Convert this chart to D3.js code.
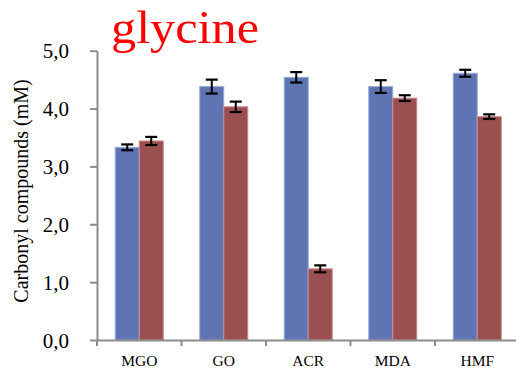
<!DOCTYPE html>
<html>
<head>
<meta charset="utf-8">
<script src="https://cdn.jsdelivr.net/npm/d3@7"></script>
<style>
  html, body { margin: 0; padding: 0; background: #fff; }
  svg { display: block; }
</style>
</head>
<body>
<svg id="chart" width="516" height="369"></svg>
<script>
// Carbonyl compounds measured for each compound, two series per group
const categories = ["MGO", "GO", "ACR", "MDA", "HMF"];
const seriesNames = ["s1", "s2"];
const seriesA = [3.33, 4.38, 4.54, 4.38, 4.61];
const seriesB = [3.44, 4.03, 1.23, 4.18, 3.86];
const errorA = [0.05, 0.12, 0.09, 0.11, 0.06];
const errorB = [0.07, 0.09, 0.06, 0.05, 0.04];
const yTicks = [0, 1, 2, 3, 4, 5];
const titleText = "glycine";
const yLabel = "Carbonyl compounds (mM)";

const serif = "'Liberation Serif', 'DejaVu Serif', serif";
const colors = { s1: "#5F75B3", s2: "#9A5051" };
const edges = { s1: "#9AAAD6", s2: "#C98A8B" };
const axisGrey = "#8c8c8c";

const svg = d3.select("#chart");

const plotLeft = 97, plotRight = 519.5, plotTop = 50.7, plotBottom = 340;

const x = d3.scaleBand().domain(categories).range([plotLeft, plotRight]).padding(0);
const xs = d3.scaleBand().domain(seriesNames).range([0, x.bandwidth()])
  .paddingInner(0).paddingOuter(0.76);
const y = d3.scaleLinear().domain([0, 5]).range([plotBottom, plotTop]);

const rows = categories.map((c, i) => ({
  cat: c,
  vals: [
    { key: "s1", v: seriesA[i], e: errorA[i] },
    { key: "s2", v: seriesB[i], e: errorB[i] }
  ]
}));

// bars
const groups = svg.append("g").selectAll("g").data(rows).join("g")
  .attr("transform", d => `translate(${x(d.cat)},0)`);

groups.selectAll("rect").data(d => d.vals).join("rect")
  .attr("x", d => xs(d.key))
  .attr("y", d => y(d.v))
  .attr("width", xs.bandwidth())
  .attr("height", d => y(0) - y(d.v))
  .attr("fill", d => colors[d.key])
  .attr("stroke", d => edges[d.key])
  .attr("stroke-width", 1);

// error bars
const eb = groups.selectAll("g.err").data(d => d.vals).join("g").attr("class", "err")
  .attr("transform", d => `translate(${xs(d.key) + xs.bandwidth() / 2},0)`);
eb.append("line")
  .attr("x1", 0).attr("x2", 0)
  .attr("y1", d => y(d.v + d.e)).attr("y2", d => y(d.v - d.e))
  .attr("stroke", "#000").attr("stroke-width", 2);
eb.selectAll("line.cap").data(d => [d.v + d.e, d.v - d.e]).join("line")
  .attr("class", "cap")
  .attr("x1", -6).attr("x2", 6)
  .attr("y1", d => y(d)).attr("y2", d => y(d))
  .attr("stroke", "#000").attr("stroke-width", 2.2);

// y axis
const yAxis = svg.append("g").attr("transform", `translate(${plotLeft},0)`)
  .call(d3.axisLeft(y).tickValues(yTicks).tickSize(7).tickSizeOuter(0).tickPadding(21)
    .tickFormat(d => d.toFixed(1).replace(".", ",")));
yAxis.attr("font-family", null).attr("font-size", null);
yAxis.select(".domain").attr("stroke", axisGrey).attr("stroke-width", 2);
yAxis.selectAll(".tick line").attr("stroke", axisGrey).attr("stroke-width", 2);
yAxis.selectAll(".tick text")
  .style("font-family", serif).style("font-size", "21px")
  .attr("fill", "#000").attr("dy", "0.34em");

// x axis: category labels between boundary ticks
const xAxis = svg.append("g").attr("transform", `translate(0,${plotBottom})`)
  .call(d3.axisBottom(x).tickSize(0).tickSizeOuter(0).tickPadding(15));
xAxis.attr("font-family", null).attr("font-size", null);
xAxis.select(".domain").attr("stroke", axisGrey).attr("stroke-width", 2);
xAxis.selectAll(".tick text")
  .style("font-family", serif).style("font-size", "15.5px").attr("fill", "#000");
xAxis.selectAll("line.bound").data(categories.concat([null])).join("line")
  .attr("class", "bound")
  .attr("x1", (d, i) => plotLeft + i * x.step()).attr("x2", (d, i) => plotLeft + i * x.step())
  .attr("y1", 0).attr("y2", 6)
  .attr("stroke", axisGrey).attr("stroke-width", 2);

// y axis title
svg.append("text")
  .attr("transform", "translate(28,191) rotate(-90)")
  .attr("text-anchor", "middle")
  .style("font-family", serif).style("font-size", "20px")
  .attr("fill", "#000")
  .text(yLabel);

// chart title
svg.append("text")
  .attr("x", 111).attr("y", 42.5)
  .style("font-family", serif).style("font-size", "47px")
  .attr("textLength", 148)
  .attr("lengthAdjust", "spacingAndGlyphs")
  .attr("fill", "#ff0000")
  .text(titleText);
</script>
</body>
</html>
